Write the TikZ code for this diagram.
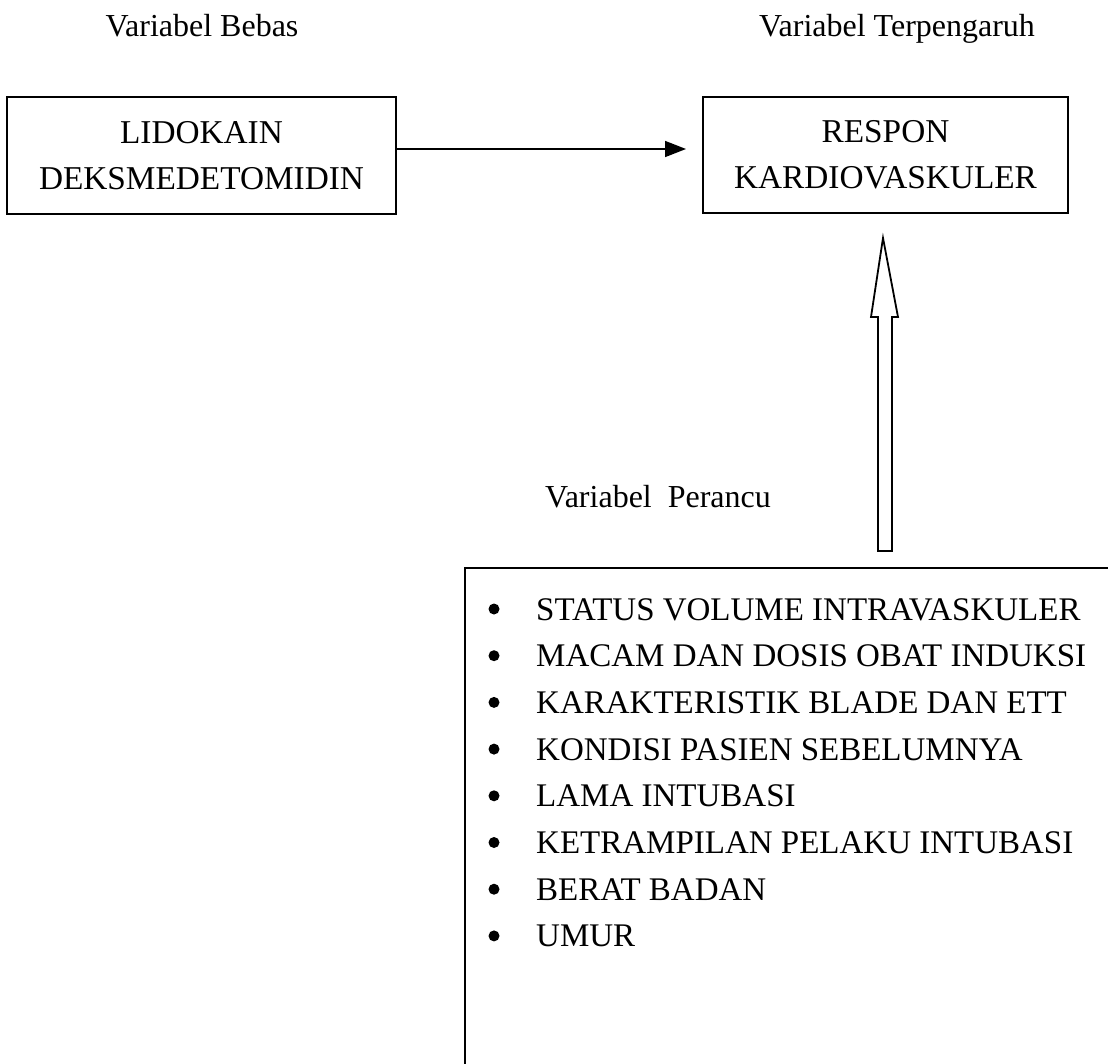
\documentclass[tikz,border=0pt]{standalone}
\usepackage{fontspec}
\setmainfont{Liberation Serif}
\usetikzlibrary{arrows.meta}
\begin{document}
\begin{tikzpicture}[x=1pt,y=-1pt,
  lbl/.style={font=\fontsize{32}{38}\selectfont, inner sep=0pt, anchor=base},
  varbox/.style={draw, line width=1.6pt, inner sep=0pt, align=center,
    font=\fontsize{33.3}{46}\selectfont},
  itemtxt/.style={font=\fontsize{33}{38}\selectfont, inner sep=0pt, anchor=base west},
  bul/.style={circle, fill, inner sep=0pt, minimum size=11pt}]
\useasboundingbox (0,0) rectangle (1108,1063);
% top labels
\node[lbl] (lbebas) at (202,36) {Variabel Bebas};
\node[lbl] (lterp) at (897,36) {Variabel Terpengaruh};
% boxes
\node[varbox, minimum width=389pt, minimum height=117pt] (bebas) at (201.5,155.5)
  {LIDOKAIN\\DEKSMEDETOMIDIN};
\node[varbox, minimum width=365pt, minimum height=116pt] (respon) at (885.5,155)
  {RESPON\\KARDIOVASKULER};
\coordinate (tipA) at (686,149);
\draw[line width=1.6pt, -{Triangle[length=21pt,width=16pt]}]
  ([yshift=6.5pt]bebas.east) -- (tipA);
% hollow arrow
\draw[line width=1.8pt, line join=miter]
  (878,551) -- (878,317) -- (871,317) -- (883,238) -- (898,317) -- (892,317)
  -- (892,551) -- cycle;
% confounding box (only top and left edges visible)
\node[lbl, anchor=base west] (lper) at (545,507) {Variabel\ \ Perancu};
\draw[line width=1.8pt] (465,1070) -- (465,568) -- (1115,568);
\foreach \t [count=\i from 0] in {STATUS VOLUME INTRAVASKULER,
  MACAM DAN DOSIS OBAT INDUKSI, KARAKTERISTIK BLADE DAN ETT,
  KONDISI PASIEN SEBELUMNYA, LAMA INTUBASI, KETRAMPILAN PELAKU INTUBASI,
  BERAT BADAN, UMUR}{
  \node[bul] (b\i) at (494,{609+46.7*\i}) {};
  \node[itemtxt] (t\i) at (536,{620+46.7*\i}) {\t};
}
\end{tikzpicture}
\end{document}
